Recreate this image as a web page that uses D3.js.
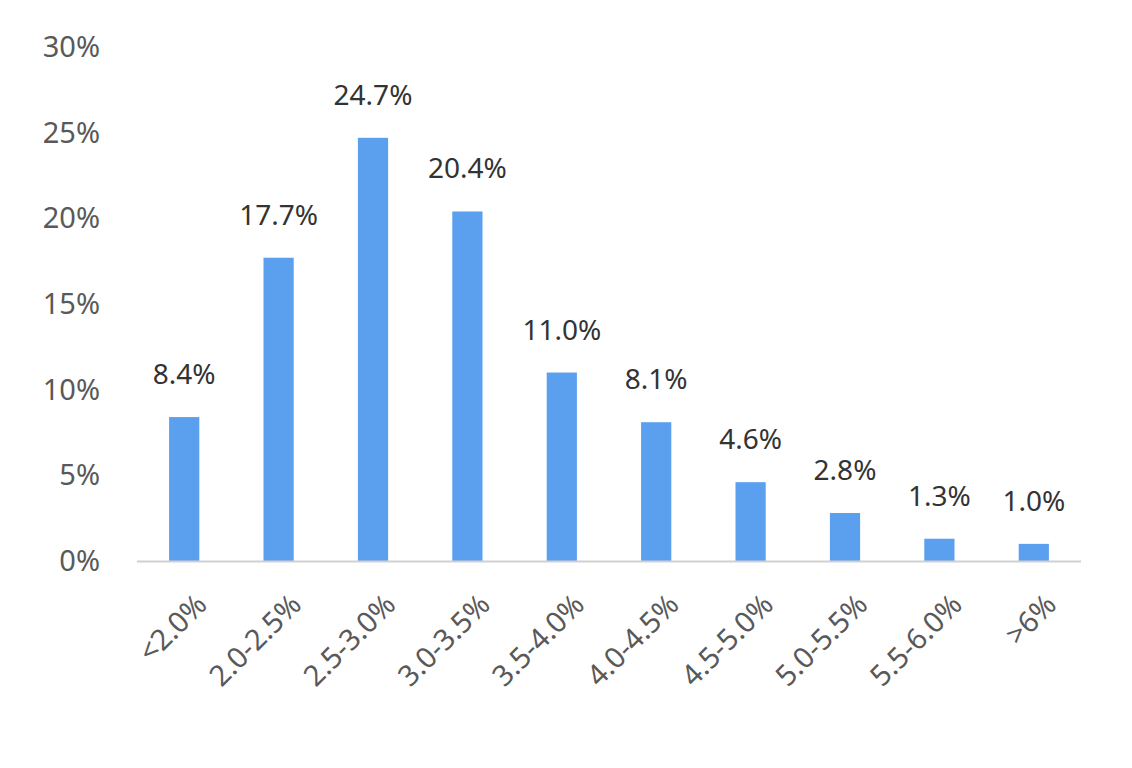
<!DOCTYPE html><html><head><meta charset="utf-8"><script src="https://cdn.jsdelivr.net/npm/d3@7"></script>
<style>body{margin:0;background:#fff}</style></head><body><svg id="c" width="1132" height="768"></svg>
<script>
const categories=["<2.0%","2.0-2.5%","2.5-3.0%","3.0-3.5%","3.5-4.0%","4.0-4.5%","4.5-5.0%","5.0-5.5%","5.5-6.0%",">6%"];
const values=[8.4,17.7,24.7,20.4,11.0,8.1,4.6,2.8,1.3,1.0];
const yTicks=[0,5,10,15,20,25,30];
const svg=d3.select("#c");
const font="'Noto Sans', sans-serif";
const x=d3.scaleBand().domain(categories).range([137,1081]).paddingInner(0.68).paddingOuter(0.34);
const y=d3.scaleLinear().domain([0,30]).range([561,47]);
svg.append("g").selectAll("text").data(yTicks).join("text")
 .attr("x",100).attr("y",d=>y(d)).attr("dy","0.35em").attr("text-anchor","end")
 .attr("font-family",font).attr("font-size",29).attr("fill","#595959").text(d=>d+"%");
svg.append("g").selectAll("rect").data(values).join("rect")
 .attr("x",(d,i)=>x(categories[i])).attr("width",x.bandwidth())
 .attr("y",d=>y(d)).attr("height",d=>y(0)-y(d)).attr("fill","#5B9FEF");
svg.append("line").attr("x1",137).attr("x2",1081).attr("y1",561.5).attr("y2",561.5).attr("stroke","#d0d0d0").attr("stroke-width",2);
svg.append("g").selectAll("text").data(values).join("text")
 .attr("x",(d,i)=>x(categories[i])+x.bandwidth()/2).attr("y",d=>y(d)-33)
 .attr("text-anchor","middle").attr("font-family",font).attr("font-size",28).attr("fill","#333")
 .text(d=>d.toFixed(1)+"%");
svg.append("g").selectAll("text").data(categories).join("text")
 .attr("transform",d=>`translate(${x(d)+x.bandwidth()/2+10},${592}) rotate(-45)`)
 .attr("text-anchor","end").attr("dy","0.7em").attr("font-family",font).attr("font-size",29).attr("fill","#595959").text(d=>d);
</script></body></html>
